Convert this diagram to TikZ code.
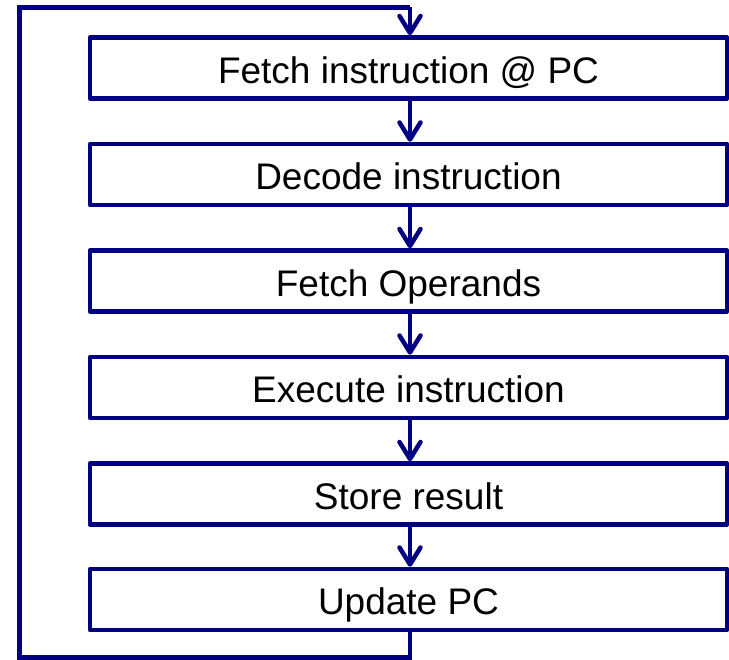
\documentclass[tikz,border=0pt]{standalone}
\usepackage{fontspec}
\setmainfont{Liberation Sans}
\usetikzlibrary{arrows.meta}
\definecolor{loopblue}{HTML}{000080}
\tikzset{
  stepbox/.style={draw=loopblue, line width=4.5pt, line join=round,
    minimum width=637pt, minimum height=61pt, inner sep=0pt,
    text height=30.5pt, text depth=0pt,
    font=\fontsize{37}{44}\selectfont, text=black},
  flow/.style={draw=loopblue, line width=4.5pt, line join=round,
    -{Straight Barb[length=17pt,width=21pt,line join=round,line cap=round]}},
  loopline/.style={draw=loopblue, line width=4.5pt, line join=miter}
}
\begin{document}
\begin{tikzpicture}[x=1pt,y=-1pt]
\useasboundingbox (0,0) rectangle (729,660);
\coordinate (col) at (410,0);
\node[stepbox] (b1) at (408.5,68)    {Fetch instruction @ PC};
\node[stepbox] (b2) at (408.5,174.5) {Decode instruction};
\node[stepbox] (b3) at (408.5,281)   {Fetch Operands};
\node[stepbox] (b4) at (408.5,387.5) {Execute instruction};
\node[stepbox] (b5) at (408.5,494)   {Store result};
\node[stepbox] (b6) at (408.5,599.5) {Update PC};
\foreach \a/\b in {b1/b2,b2/b3,b3/b4,b4/b5,b5/b6}
  \draw[flow] (\a.south -| col) -- (\b.north -| col);
% feedback loop from the last step back to the first
\coordinate (lb) at (19.5,657.5);
\coordinate (lt) at (19.5,7.5);
\draw[loopline] (b6.south -| col) -- (col |- lb) -- (lb) -- (lt) -- (col |- lt);
\draw[flow] (col |- lt) -- (b1.north -| col);
\end{tikzpicture}
\end{document}
